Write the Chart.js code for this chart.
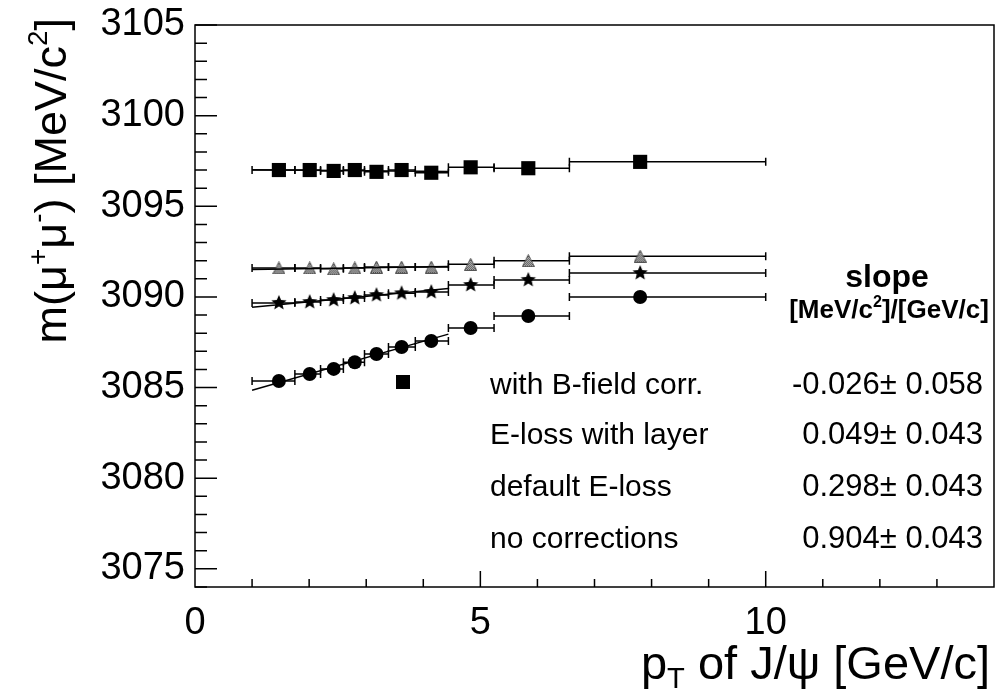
<!DOCTYPE html>
<html>
<head>
<meta charset="utf-8">
<script src="https://cdn.jsdelivr.net/npm/chart.js@4.4.0/dist/chart.umd.min.js"></script>
<style>
    html, body { margin: 0; padding: 0; background: #fff; }
    canvas { display: block; }
</style>
</head>
<body>
<canvas id="massChart" width="998" height="691"></canvas>
<script>
// pT bins of the J/psi (GeV/c): mean value and bin edges
const ptMean = [1.47, 2.01, 2.43, 2.80, 3.18, 3.62, 4.14, 4.83, 5.84, 7.80];
const ptLow  = [1.0, 1.75, 2.2, 2.6, 2.97, 3.39, 3.86, 4.44, 5.24, 6.56];
const ptHigh = [1.75, 2.2, 2.6, 2.97, 3.39, 3.86, 4.44, 5.24, 6.56, 10.0];

// fitted mass per bin (MeV/c^2)
const massBField  = [3097.0, 3097.0, 3096.95, 3097.0, 3096.9, 3097.0, 3096.85, 3097.15, 3097.1, 3097.45];
const massLayer   = [3091.6, 3091.6, 3091.55, 3091.6, 3091.65, 3091.65, 3091.65, 3091.8, 3092.0, 3092.25];
const massDefault = [3089.67, 3089.72, 3089.83, 3089.94, 3090.1, 3090.2, 3090.27, 3090.66, 3090.94, 3091.32];
const massNoCorr  = [3085.36, 3085.75, 3086.03, 3086.4, 3086.85, 3087.24, 3087.57, 3088.29, 3088.95, 3090.0];

// straight line fits, value at the ends of the fit range
const fitRange   = [1.0, 4.44];
const fitBField  = [3097.01, 3096.92];
const fitLayer   = [3091.51, 3091.68];
const fitDefault = [3089.43, 3090.46];
const fitNoCorr  = [3084.85, 3087.95];

// legend
const legendLabels = ['with B-field corr.', 'E-loss with layer', 'default E-loss', 'no corrections'];
const legendSlopes = ['-0.026\u00B1 0.058', '0.049\u00B1 0.043', '0.298\u00B1 0.043', '0.904\u00B1 0.043'];

// axis ticks
const xTickLabels = [0, 5, 10];
const yTickLabels = [3075, 3080, 3085, 3090, 3095, 3100, 3105];

const FONT = "'Liberation Sans', Arial, Helvetica, sans-serif";

function toPoints(xs, ys) {
    return xs.map((x, i) => ({ x: x, y: ys[i] }));
}

// filled five point star marker
function makeStar(r) {
    const c = document.createElement('canvas');
    c.width = c.height = 2 * r + 2;
    const g = c.getContext('2d');
    g.translate(r + 1, r + 1);
    g.beginPath();
    for (let k = 0; k < 10; k++) {
        const rad = k % 2 ? r * 0.45 : r;
        const a = -Math.PI / 2 + k * Math.PI / 5;
        g.lineTo(rad * Math.cos(a), rad * Math.sin(a));
    }
    g.closePath();
    g.fillStyle = '#000';
    g.fill();
    return c;
}

// grey hatched triangle marker
function makeTriangle(s) {
    const c = document.createElement('canvas');
    c.width = c.height = s;
    const g = c.getContext('2d');
    const pat = document.createElement('canvas');
    pat.width = pat.height = 2;
    const pg = pat.getContext('2d');
    pg.fillStyle = '#cfcfcf';
    pg.fillRect(0, 0, 2, 2);
    pg.fillStyle = '#444';
    pg.fillRect(0, 0, 1, 1);
    pg.fillRect(1, 1, 1, 1);
    g.beginPath();
    g.moveTo(s / 2, 0.5);
    g.lineTo(s - 0.5, s - 0.5);
    g.lineTo(0.5, s - 0.5);
    g.closePath();
    g.fillStyle = g.createPattern(pat, 'repeat');
    g.fill();
    g.strokeStyle = '#555';
    g.lineWidth = 1;
    g.stroke();
    return c;
}

// draws text with ^sup and _sub parts
function drawRich(ctx, parts, x, y, size, weight, align) {
    const widthOf = p => {
        ctx.font = weight + ' ' + (p.s ? size * 0.62 : size) + 'px ' + FONT;
        return ctx.measureText(p.t).width;
    };
    const total = parts.reduce((w, p) => w + widthOf(p), 0);
    let cx = align === 'right' ? x - total : align === 'center' ? x - total / 2 : x;
    parts.forEach(p => {
        const w = widthOf(p);
        let dy = 0;
        if (p.s === 'sup') dy = -size * 0.42;
        if (p.s === 'sub') dy = size * 0.2;
        ctx.fillText(p.t, cx, y + dy);
        cx += w;
    });
}

// horizontal error bars (bin widths)
const errorBars = {
    id: 'errorBars',
    beforeDatasetsDraw(chart) {
        const { ctx, scales: { x, y } } = chart;
        ctx.save();
        ctx.strokeStyle = '#000';
        ctx.lineWidth = 1.5;
        chart.data.datasets.forEach(ds => {
            if (!ds.xLow) return;
            ds.data.forEach((p, i) => {
                const yp = y.getPixelForValue(p.y);
                const x0 = x.getPixelForValue(ds.xLow[i]);
                const x1 = x.getPixelForValue(ds.xHigh[i]);
                ctx.beginPath();
                ctx.moveTo(x0, yp); ctx.lineTo(x1, yp);
                ctx.moveTo(x0, yp - 4); ctx.lineTo(x0, yp + 4);
                ctx.moveTo(x1, yp - 4); ctx.lineTo(x1, yp + 4);
                ctx.stroke();
            });
        });
        ctx.restore();
    }
};

// frame, inward ticks, titles and the slope table
const frame = {
    id: 'frame',
    afterDraw(chart) {
        const { ctx, chartArea: a, scales: { x, y } } = chart;
        ctx.save();
        ctx.strokeStyle = '#000';
        ctx.lineWidth = 1.5;
        ctx.strokeRect(a.left, a.top, a.right - a.left, a.bottom - a.top);

        ctx.beginPath();
        for (let v = Math.ceil(y.min); v <= y.max; v++) {
            const yp = y.getPixelForValue(v);
            const len = v % 5 === 0 ? 22 : 12;
            ctx.moveTo(a.left, yp); ctx.lineTo(a.left + len, yp);
        }
        for (let v = Math.ceil(x.min) + 1; v < x.max; v++) {
            const xp = x.getPixelForValue(v);
            const len = v % 5 === 0 ? 16 : 8;
            ctx.moveTo(xp, a.bottom); ctx.lineTo(xp, a.bottom - len);
        }
        ctx.stroke();

        ctx.fillStyle = '#000';
        ctx.textBaseline = 'alphabetic';

        // x axis title
        drawRich(ctx, [{ t: 'p' }, { t: 'T', s: 'sub' }, { t: ' of J/\u03C8 [GeV/c]' }], 990, 679, 47, 'normal', 'right');

        // y axis title
        ctx.save();
        ctx.translate(66, 18);
        ctx.rotate(-Math.PI / 2);
        drawRich(ctx, [{ t: 'm(\u03BC' }, { t: '+', s: 'sup' }, { t: '\u03BC' }, { t: '-', s: 'sup' },
            { t: ') [MeV/c' }, { t: '2', s: 'sup' }, { t: ']' }], 0, 0, 45, 'normal', 'right');
        ctx.restore();

        // slope header
        drawRich(ctx, [{ t: 'slope' }], 887, 287, 32, 'bold', 'center');
        drawRich(ctx, [{ t: '[MeV/c' }, { t: '2', s: 'sup' }, { t: ']/[GeV/c]' }], 889, 318, 26, 'bold', 'center');

        // legend rows
        const rowY = [394, 444, 496, 548];
        legendLabels.forEach((label, i) => {
            drawRich(ctx, [{ t: label }], 490, rowY[i], 30, 'normal', 'left');
            drawRich(ctx, [{ t: legendSlopes[i] }], 983, rowY[i], 31, 'normal', 'right');
        });
        // marker of the B-field series next to its row
        ctx.fillRect(396, 375, 14, 14);
        ctx.restore();
    }
};

const tickFont = { family: FONT, size: 38 };

new Chart(document.getElementById('massChart').getContext('2d'), {
    type: 'scatter',
    data: {
        datasets: [
            { type: 'line', data: toPoints(fitRange, fitBField), borderColor: '#000', borderWidth: 1.5, pointRadius: 0 },
            { type: 'line', data: toPoints(fitRange, fitLayer), borderColor: '#000', borderWidth: 1.5, pointRadius: 0 },
            { type: 'line', data: toPoints(fitRange, fitDefault), borderColor: '#000', borderWidth: 1.5, pointRadius: 0 },
            { type: 'line', data: toPoints(fitRange, fitNoCorr), borderColor: '#000', borderWidth: 1.5, pointRadius: 0 },
            {
                label: legendLabels[0], data: toPoints(ptMean, massBField), xLow: ptLow, xHigh: ptHigh,
                pointStyle: 'rect', pointRadius: 10, backgroundColor: '#000', borderColor: '#000', borderWidth: 0
            },
            {
                label: legendLabels[1], data: toPoints(ptMean, massLayer), xLow: ptLow, xHigh: ptHigh,
                pointStyle: makeTriangle(13), pointRadius: 7
            },
            {
                label: legendLabels[2], data: toPoints(ptMean, massDefault), xLow: ptLow, xHigh: ptHigh,
                pointStyle: makeStar(8), pointRadius: 7
            },
            {
                label: legendLabels[3], data: toPoints(ptMean, massNoCorr), xLow: ptLow, xHigh: ptHigh,
                pointStyle: 'circle', pointRadius: 7, backgroundColor: '#000', borderColor: '#000', borderWidth: 0
            }
        ]
    },
    options: {
        responsive: false,
        animation: false,
        devicePixelRatio: 1,
        layout: { autoPadding: false, padding: { left: 0, top: 25, right: 4, bottom: 0 } },
        plugins: { legend: { display: false }, tooltip: { enabled: false } },
        scales: {
            x: {
                type: 'linear', min: 0, max: 14,
                grid: { display: false, drawTicks: false },
                border: { display: false },
                afterBuildTicks: s => { s.ticks = xTickLabels.map(v => ({ value: v })); },
                afterFit: s => { s.height = 104; s.paddingLeft = 0; s.paddingRight = 0; },
                ticks: { padding: 14, color: '#000', font: tickFont, maxRotation: 0, callback: v => String(v) }
            },
            y: {
                type: 'linear', min: 3074, max: 3105,
                grid: { display: false, drawTicks: false },
                border: { display: false },
                afterBuildTicks: s => { s.ticks = yTickLabels.map(v => ({ value: v })); },
                afterFit: s => { s.width = 195; s.paddingTop = 0; s.paddingBottom = 0; },
                ticks: { padding: 10, color: '#000', font: tickFont, callback: v => String(v) }
            }
        }
    },
    plugins: [errorBars, frame]
});
</script>
</body>
</html>
